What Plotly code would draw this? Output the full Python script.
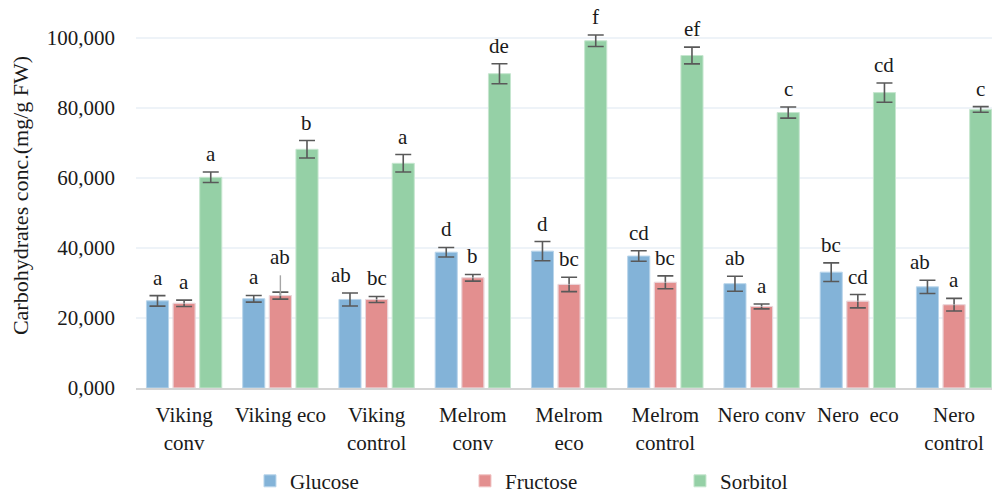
import plotly.graph_objects as go

# Groups along the x axis (cultivar + production system)
categories = ["Viking<br>conv", "Viking eco", "Viking<br>control",
              "Melrom<br>conv", "Melrom<br>eco", "Melrom<br>control",
              "Nero conv", "Nero\u00a0 eco", "Nero<br>control"]

# Mean concentrations (mg/g FW) and standard errors
glucose = [24900, 25500, 25300, 38800, 39100, 37700, 29800, 33100, 28900]
glucose_err = [1500, 950, 1850, 1350, 2750, 1500, 2150, 2650, 1900]
fructose = [24200, 26400, 25300, 31500, 29600, 30200, 23300, 24800, 23800]
fructose_err = [900, 1000, 850, 950, 2050, 1850, 700, 1900, 1800]
fructose_extra = [0, 5800, 0, 0, 0, 0, 0, 0, 0]
sorbitol = [60200, 68200, 64200, 89800, 99200, 95000, 78700, 84400, 79600]
sorbitol_err = [1500, 2500, 2500, 2850, 1650, 2400, 1600, 2750, 800]

# Significance letters
glucose_sig = ["a", "a", "ab", "d", "d", "cd", "ab", "bc", "ab"]
fructose_sig = ["a", "ab", "bc", "b", "bc", "bc", "a", "cd", "a"]
sorbitol_sig = ["a", "b", "a", "de", "f", "ef", "c", "cd", "c"]

y_ticks = [0, 20000, 40000, 60000, 80000, 100000]
y_tick_text = ["0,000", "20,000", "40,000", "60,000", "80,000", "100,000"]

FONT = "Liberation Serif"
TEXT_COLOR = "#1a1a1a"
ERR_COLOR = "#595959"

series = [
    ("Glucose", glucose, glucose_err, glucose_sig, "#83B3D8", "#B9D5EB"),
    ("Fructose", fructose, fructose_err, fructose_sig, "#E38F8F", "#F0C2C2"),
    ("Sorbitol", sorbitol, sorbitol_err, sorbitol_sig, "#95D0A6", "#C6E6CF"),
]

fig = go.Figure()
for name, vals, errs, _, color, edge in series:
    fig.add_trace(go.Bar(
        name=name, x=categories, y=vals, offsetgroup=name,
        marker=dict(color=color, line=dict(color=edge, width=1)),
        error_y=dict(type="data", array=errs, visible=True,
                     color=ERR_COLOR, thickness=1.6, width=8),
    ))

# extra upper whisker on the fructose bars (thin grey line)
fig.add_trace(go.Bar(
    name="Fructose", x=categories, y=fructose, offsetgroup="Fructose",
    marker=dict(color="rgba(0,0,0,0)"), showlegend=False, hoverinfo="skip",
    error_y=dict(type="data", symmetric=False, array=fructose_extra,
                 arrayminus=[0] * len(fructose_extra), visible=True,
                 color="#A6A6A6", thickness=1.4, width=0),
))

# letters above each error bar
slot_px = 26.6
nudge = {("Glucose", 2): -9, ("Glucose", 8): -7}
for k, (name, vals, errs, sigs, _, _) in enumerate(series):
    for i, cat in enumerate(categories):
        top = vals[i] + errs[i]
        if name == "Fructose":
            top = max(top, vals[i] + fructose_extra[i])
        fig.add_annotation(
            x=cat, y=top, xref="x", yref="y", text=sigs[i],
            showarrow=False, yanchor="bottom",
            xshift=(k - 1) * slot_px + nudge.get((name, i), 0), yshift=4,
            font=dict(family=FONT, size=21, color=TEXT_COLOR),
        )

fig.update_layout(
    width=992, height=493,
    margin=dict(l=136, r=0, t=3, b=105),
    paper_bgcolor="white", plot_bgcolor="white",
    barmode="group", bargap=0.17, bargroupgap=0.17,
    font=dict(family=FONT, size=21, color=TEXT_COLOR),
    showlegend=True,
    legend=dict(orientation="h", xref="container", yref="container",
                x=0.252, y=0.024, xanchor="left", yanchor="middle",
                entrywidth=170, entrywidthmode="pixels",
                font=dict(family=FONT, size=21, color=TEXT_COLOR),
                traceorder="normal"),
)

fig.update_xaxes(
    range=[-0.5, 8.394], showgrid=False, showline=True,
    linecolor="#D4D4D4", linewidth=2, ticks="", ticklabelstandoff=7,
    tickfont=dict(family=FONT, size=21, color=TEXT_COLOR),
)
fig.update_yaxes(
    range=[0, 110000], tickvals=y_ticks, ticktext=y_tick_text,
    showgrid=True, gridcolor="#EEF3F8", gridwidth=1.5, zeroline=False,
    showline=False, ticklabelstandoff=20,
    tickfont=dict(family=FONT, size=21, color=TEXT_COLOR),
    title=dict(text="Carbohydrates conc.(mg/g FW)", standoff=12,
               font=dict(family=FONT, size=22, color=TEXT_COLOR)),
)

fig.write_html("out.html")
